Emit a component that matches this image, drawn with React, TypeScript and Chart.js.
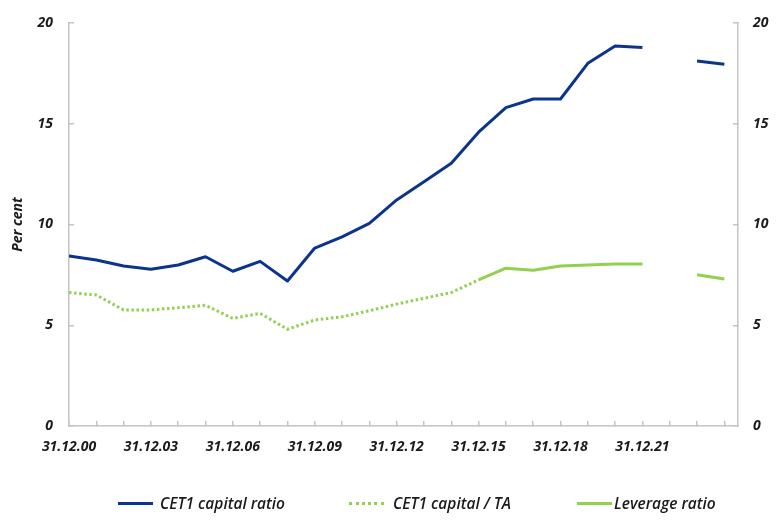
import React, { useRef, useEffect } from 'react';
import { Chart, registerables } from 'chart.js';
Chart.register(...registerables);

const years = [
  2000, 2001, 2002, 2003, 2004, 2005, 2006, 2007, 2008, 2009, 2010, 2011, 2012,
  2013, 2014, 2015, 2016, 2017, 2018, 2019, 2020, 2021, 2022, 2023, 2024,
];
const labelYears = [2000, 2003, 2006, 2009, 2012, 2015, 2018, 2021];

const cet1Ratio = [
  8.44, 8.24, 7.94, 7.78, 7.99, 8.4, 7.68, 8.17, 7.2, 8.83, 9.39, 10.06, 11.22,
  12.12, 13.04, 14.58, 15.8, 16.23, 16.23, 18.0, 18.86, 18.79, null, 18.11, 17.95,
];
const cet1Ta = [
  6.62, 6.5, 5.76, 5.76, 5.87, 5.99, 5.34, 5.59, 4.8, 5.26, 5.42, 5.72, 6.05,
  6.34, 6.62, 7.25, null, null, null, null, null, null, null, null, null,
];
const leverage = [
  null, null, null, null, null, null, null, null, null, null, null, null, null,
  null, null, 7.25, 7.83, 7.73, 7.94, 7.99, 8.04, 8.04, null, 7.51, 7.3,
];

const seriesNames = ['CET1 capital ratio', 'CET1 capital / TA', 'Leverage ratio'];

const BLUE = '#0b348c';
const GREEN = '#92d050';
const AXIS = '#c4c4c4';
const TEXT = '#1a1a1a';

const toPoints = (vals: (number | null)[]) => years.map((x, i) => ({ x, y: vals[i] }));

const tickFont = { family: '"Open Sans", sans-serif', size: 14, weight: 'bold' as const, style: 'italic' as const };

const App: React.FC = () => {
  const chartRef = useRef<HTMLCanvasElement | null>(null);
  const chartInstance = useRef<Chart | null>(null);

  useEffect(() => {
    if (chartInstance.current) {
      chartInstance.current.destroy();
    }
    const ctx = chartRef.current?.getContext('2d');
    if (ctx) {
      chartInstance.current = new Chart(ctx, {
        type: 'line',
        data: {
          datasets: [
            {
              label: seriesNames[0],
              data: toPoints(cet1Ratio),
              borderColor: BLUE,
              backgroundColor: BLUE,
              borderWidth: 3,
              pointRadius: 0,
              borderJoinStyle: 'round',
            },
            {
              label: seriesNames[1],
              data: toPoints(cet1Ta),
              borderColor: GREEN,
              backgroundColor: GREEN,
              borderWidth: 3,
              borderDash: [2.5, 2.6],
              pointRadius: 0,
            },
            {
              label: seriesNames[2],
              data: toPoints(leverage),
              borderColor: GREEN,
              backgroundColor: GREEN,
              borderWidth: 3,
              pointRadius: 0,
              borderJoinStyle: 'round',
            },
          ],
        },
        options: {
          animation: false,
          responsive: true,
          maintainAspectRatio: false,
          spanGaps: false,
          layout: { padding: { top: 15, bottom: 51, left: 0, right: 0 } },
          plugins: {
            legend: { display: false },
            tooltip: { enabled: false },
          },
          scales: {
            x: {
              type: 'linear',
              min: 2000,
              max: 2024.5,
              afterFit: (s) => {
                s.height = 40;
              },
              border: { color: AXIS, width: 1.5 },
              grid: { drawOnChartArea: false, drawTicks: true, tickLength: -5, color: AXIS, lineWidth: 1.5 },
              ticks: {
                stepSize: 1,
                includeBounds: false,
                autoSkip: false,
                maxRotation: 0,
                padding: 18,
                color: TEXT,
                font: tickFont,
                callback: (v) => (labelYears.includes(Number(v)) ? `31.12.${String(v).slice(2)}` : ''),
              },
            },
            y: {
              position: 'left',
              min: 0,
              max: 20,
              afterFit: (s) => {
                s.width = 61;
                s.paddingTop = 8;
                s.paddingBottom = 0;
              },
              border: { color: AXIS, width: 1.5 },
              grid: { drawOnChartArea: false, drawTicks: true, tickLength: -5, color: AXIS, lineWidth: 1.5 },
              ticks: { stepSize: 5, padding: 21, color: TEXT, font: tickFont },
              title: {
                display: true,
                text: 'Per cent',
                color: TEXT,
                padding: { top: 2, bottom: 0 },
                font: { family: '"Open Sans", sans-serif', size: 14, weight: 'bold', style: 'italic' },
              },
            },
            y2: {
              position: 'right',
              min: 0,
              max: 20,
              afterFit: (s) => {
                s.width = 35;
                s.paddingTop = 8;
                s.paddingBottom = 0;
              },
              border: { color: AXIS, width: 1.5 },
              grid: { drawOnChartArea: false, drawTicks: true, tickLength: -5, color: AXIS, lineWidth: 1.5 },
              ticks: { stepSize: 5, padding: 20, color: TEXT, font: tickFont },
            },
          },
        },
      });
    }
    return () => {
      if (chartInstance.current) {
        chartInstance.current.destroy();
        chartInstance.current = null;
      }
    };
  }, []);

  const legendItems = [
    { left: 110, color: BLUE, style: 'solid', gap: 7 },
    { left: 341, color: GREEN, style: 'dotted', gap: 9 },
    { left: 569, color: GREEN, style: 'solid', gap: 2 },
  ];

  return (
    <div style={{ position: 'relative', width: 765, height: 509 }}>
      <div style={{ position: 'relative', width: 765, height: 509 }}>
        <canvas ref={chartRef} />
      </div>
      {legendItems.map((it, i) => (
        <div
          key={i}
          style={{
            position: 'absolute',
            left: it.left,
            top: 484,
            height: 22,
            display: 'flex',
            alignItems: 'center',
            fontFamily: '"Open Sans", sans-serif',
            fontStyle: 'italic',
            fontWeight: 600,
            fontSize: 15.5,
            color: TEXT,
            whiteSpace: 'nowrap',
          }}
        >
          <span style={{ display: 'inline-block', width: 35, height: 0, borderTop: `3px ${it.style} ${it.color}` }} />
          <span style={{ marginLeft: it.gap }}>{seriesNames[i]}</span>
        </div>
      ))}
    </div>
  );
};

export default App;
